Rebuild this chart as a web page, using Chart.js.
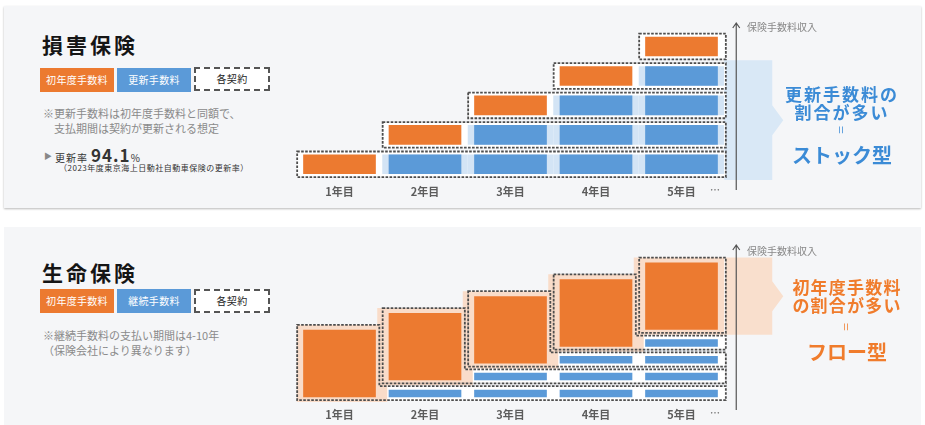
<!DOCTYPE html>
<html lang="ja">
<head>
<meta charset="utf-8">
<script src="https://cdn.jsdelivr.net/npm/chart.js@4.4.1/dist/chart.umd.min.js"></script>
<style>
  html, body { margin: 0; padding: 0; background: #fff; }
  body { width: 925px; height: 425px; position: relative; overflow: hidden;
         font-family: "Noto Sans CJK JP", "Noto Sans", sans-serif; }
  .panel { position: absolute; left: 4px; width: 917px; background: #f5f6f8; }
  #p1 { top: 6px; height: 202px; box-shadow: 0 1px 2px rgba(0,0,0,.28); }
  #p2 { top: 227px; height: 198px; }
  .t { position: absolute; white-space: nowrap; }
  .title { font-size: 21px; font-weight: 700; letter-spacing: 3px; color: #151515; line-height: 24px; }
  .tag { position: absolute; height: 24px; line-height: 24px; font-size: 10px; text-align: center;
         box-sizing: border-box; color: #fff; letter-spacing: 0.3px; }
  .tag.dash { border: 2px dashed #555; background: #fff; color: #222; line-height: 20px; }
  .note { font-size: 11px; line-height: 16px; color: #8a8a8a; }
  .axlabel { font-size: 10px; line-height: 14px; color: #888; }
  .dots { font-size: 10px; line-height: 14px; color: #777; font-weight: 700; }
  .big { position: absolute; text-align: center; font-weight: 700; white-space: nowrap; }
  .big div { height: 18px; line-height: 18px; }
  canvas { position: absolute; }
</style>
</head>
<body>
<div class="panel" id="p1"></div>
<div class="panel" id="p2"></div>

<!-- 損害保険 -->
<div class="t title" style="left:42px;top:32px;">損害保険</div>
<div class="tag" style="left:40px;top:68px;width:74px;background:#ec7a30;">初年度手数料</div>
<div class="tag" style="left:117px;top:68px;width:74px;background:#5b9ad8;">更新手数料</div>
<div class="tag dash" style="left:194px;top:67px;width:76px;">各契約</div>
<div class="t note" style="left:43px;top:105px;">※更新手数料は初年度手数料と同額で、</div>
<div class="t note" style="left:43px;top:120px;">　支払期間は契約が更新される想定</div>
<div class="t" style="left:44px;top:148px;font-size:8px;line-height:16px;color:#888;">▶</div>
<div class="t" style="left:55px;top:146px;line-height:18px;color:#333;">
  <span style="font-size:10px;letter-spacing:1px;">更新率</span><span style="font-size:17px;font-weight:700;letter-spacing:1px;margin-left:3px;">94.1</span><span style="font-size:10px;">%</span>
</div>
<div class="t" style="left:59px;top:163px;font-size:8px;line-height:10px;letter-spacing:0.5px;color:#333;">（2023年度東京海上日動社自動車保険の更新率）</div>

<canvas id="c1" width="520" height="205" style="left:280px;top:5px;"></canvas>
<div class="t axlabel" style="left:747px;top:20px;">保険手数料収入</div>
<div class="t dots" style="left:710px;top:183px;">…</div>
<div class="big" style="left:772px;width:140px;top:85px;color:#3b8bd6;">
  <div style="font-size:17px;letter-spacing:2px;">更新手数料の</div>
  <div style="font-size:17px;letter-spacing:2px;">割合が多い</div>
  <div style="font-size:14px;font-weight:400;transform:rotate(90deg);opacity:.8;">=</div>
  <div style="font-size:20px;margin-top:5px;height:22px;line-height:22px;">ストック型</div>
</div>

<!-- 生命保険 -->
<div class="t title" style="left:42px;top:260px;">生命保険</div>
<div class="tag" style="left:40px;top:289px;width:74px;background:#ec7a30;">初年度手数料</div>
<div class="tag" style="left:117px;top:289px;width:74px;background:#5b9ad8;">継続手数料</div>
<div class="tag dash" style="left:194px;top:289px;width:76px;">各契約</div>
<div class="t note" style="left:43px;top:327px;">※継続手数料の支払い期間は4-10年</div>
<div class="t note" style="left:43px;top:342px;">（保険会社により異なります）</div>

<canvas id="c2" width="520" height="210" style="left:280px;top:220px;"></canvas>
<div class="t axlabel" style="left:747px;top:244px;">保険手数料収入</div>
<div class="t dots" style="left:710px;top:406px;">…</div>
<div class="big" style="left:777px;width:140px;top:278px;color:#f07c2c;">
  <div style="font-size:17px;letter-spacing:1.2px;">初年度手数料</div>
  <div style="font-size:17px;letter-spacing:1.2px;">の割合が多い</div>
  <div style="font-size:14px;font-weight:400;transform:rotate(90deg);margin-top:4px;opacity:.8;">=</div>
  <div style="font-size:20px;margin-top:5px;height:22px;line-height:22px;">フロー型</div>
</div>

<script>
// Categories (contract years)
const years = ['1年目', '2年目', '3年目', '4年目', '5年目'];

// 損害保険: one contract starts each year, renewal fee equals first-year fee
const sonpoFirst = [2, 2, 2, 2, 2];   // 初年度手数料 per contract
const sonpoRenew = [2, 2, 2, 2, 2];   // 更新手数料 per contract per year

// 生命保険: large first-year fee, small continuing fee
const seimeiFirst = [8, 8, 8, 8, 8];            // 初年度手数料 per contract
const seimeiRenew = [0.9, 0.9, 0.9, 0.9, 0.9];  // 継続手数料 per contract per year

const ORANGE = '#ec7a30';
const BLUE = '#5b9ad8';
const LIGHT_BLUE = '#d3e4f5';
const PEACH = '#f9dcc9';

// Turn the fee arrays into floating bar rows: contract c starts in year c
function buildContracts(first, renew, gap) {
    let base = 0;
    return first.map((f, c) => {
        const row = years.map((_, k) => {
            if (k < c) return null;
            if (k === c) return [base, base + f];
            return [base, base + renew[c]];
        });
        const out = { start: c, base: base, row: row };
        base += renew[c] + gap;
        return out;
    });
}

function buildDatasets(contracts, bgKind, bgColor) {
    const main = contracts.map((c) => ({
        data: c.row,
        backgroundColor: (ctx) => ctx.dataIndex === c.start ? ORANGE : BLUE,
        borderWidth: 0,
        inflateAmount: 0,
        barPercentage: 0.85,
        categoryPercentage: 1,
        order: 1,
    }));
    const bg = contracts.map((c) => ({
        data: c.row.map((v, k) => {
            if (bgKind === 'renew') return k > c.start ? v : null;
            return k === c.start ? v : null;
        }),
        backgroundColor: bgColor,
        borderWidth: 0,
        inflateAmount: bgKind === 'first' ? 5 : 0,
        barPercentage: 1,
        categoryPercentage: 1,
        order: 2,
    }));
    return main.concat(bg);
}

// Dashed contract outlines, side banner and the income arrow
function diagramPlugin(contracts, opt) {
    function outline(ctx, chart, c, ci) {
        const els = chart.getDatasetMeta(ci).data;
        const fe = els[c.start];
        const fL = fe.x - fe.width / 2 - opt.padL;
        const fR = fe.x + fe.width / 2;
        const fTop = fe.y - opt.padT;
        const bottom = fe.base + opt.padB;
        ctx.beginPath();
        if (c.start === years.length - 1) {
            ctx.rect(fL, fTop, fR + opt.padR - fL, bottom - fTop);
            return;
        }
        const last = els[years.length - 1];
        const R = last.x + last.width / 2 + opt.padR;
        const sTop = last.y - opt.padT;
        if (fTop >= sTop - 0.5) {
            const top = Math.min(fTop, sTop);
            ctx.rect(fL, top, R - fL, bottom - top);
            return;
        }
        const sx = fR + opt.stepPad;
        const sy = last.y - opt.stepPad;
        ctx.moveTo(fL, fTop);
        ctx.lineTo(sx, fTop);
        ctx.lineTo(sx, sy);
        ctx.lineTo(R, sy);
        ctx.lineTo(R, bottom);
        ctx.lineTo(fL, bottom);
        ctx.closePath();
    }
    return {
        id: 'diagram',
        beforeDatasetsDraw(chart) {
            const { ctx, chartArea: a } = chart;
            // banner next to the last year column
            let top = Infinity, bot = -Infinity;
            contracts.forEach((c, ci) => {
                const el = chart.getDatasetMeta(ci).data[years.length - 1];
                const isFirst = c.start === years.length - 1;
                if (!el || c.row[years.length - 1] === null) return;
                if ((opt.bannerKind === 'first') !== isFirst) return;
                top = Math.min(top, el.y);
                bot = Math.max(bot, el.base);
            });
            top -= opt.bannerPad;
            bot += opt.bannerPad;
            const x0 = a.right, x1 = a.right + 48, mid = (top + bot) / 2;
            ctx.save();
            ctx.fillStyle = opt.bannerColor;
            ctx.beginPath();
            ctx.moveTo(x0, top);
            ctx.lineTo(x1, top);
            ctx.lineTo(x1, mid - 15);
            ctx.lineTo(x1 + 11, mid);
            ctx.lineTo(x1, mid + 15);
            ctx.lineTo(x1, bot);
            ctx.lineTo(x0, bot);
            ctx.closePath();
            ctx.fill();
            // white insides of each contract box
            ctx.fillStyle = '#ffffff';
            contracts.forEach((c, ci) => { outline(ctx, chart, c, ci); ctx.fill(); });
            ctx.restore();
        },
        afterDatasetsDraw(chart) {
            const { ctx, chartArea: a } = chart;
            ctx.save();
            ctx.strokeStyle = '#4d4d4d';
            ctx.lineWidth = 1.8;
            ctx.setLineDash([2.6, 1.4]);
            contracts.forEach((c, ci) => { outline(ctx, chart, c, ci); ctx.stroke(); });
            ctx.setLineDash([]);
            // income axis arrow
            const ax = a.right + 12;
            const y0 = a.bottom + opt.arrowBottom, y1 = a.top + opt.arrowTop;
            ctx.strokeStyle = '#555';
            ctx.lineWidth = 1.2;
            ctx.beginPath();
            ctx.moveTo(ax, y0);
            ctx.lineTo(ax, y1);
            ctx.moveTo(ax - 3.5, y1 + 5);
            ctx.lineTo(ax, y1);
            ctx.lineTo(ax + 3.5, y1 + 5);
            ctx.stroke();
            ctx.restore();
        },
    };
}

function makeChart(id, contracts, bgKind, bgColor, yMin, yMax, pad, tickPad, opt) {
    return new Chart(document.getElementById(id), {
        type: 'bar',
        data: { labels: years, datasets: buildDatasets(contracts, bgKind, bgColor) },
        plugins: [diagramPlugin(contracts, opt)],
        options: {
            responsive: false,
            animation: false,
            events: [],
            layout: { padding: pad },
            plugins: { legend: { display: false }, tooltip: { enabled: false } },
            scales: {
                x: {
                    stacked: true,
                    grid: { display: false, drawTicks: false },
                    border: { display: false },
                    ticks: {
                        color: '#5c5c5c',
                        padding: tickPad,
                        font: { size: 11, weight: 'bold', family: '"Noto Sans CJK JP", sans-serif' },
                    },
                },
                y: { stacked: false, display: false, min: yMin, max: yMax },
            },
        },
    });
}

const sonpo = buildContracts(sonpoFirst, sonpoRenew, 1);
const seimei = buildContracts(seimeiFirst, seimeiRenew, 1.1);

makeChart('c1', sonpo, 'renew', LIGHT_BLUE, -0.6, 15.5,
    { left: 16.75, right: 75.75, top: 17, bottom: 6.8 }, 5,
    { padL: 6, padR: 8, padT: 3, padB: 3, stepPad: 3.5,
      bannerKind: 'renew', bannerColor: '#d9e8f6', bannerPad: 6,
      arrowBottom: 10, arrowTop: 1 });

makeChart('c2', seimei, 'first', PEACH, -0.57, 17.49,
    { left: 16.75, right: 75.75, top: 30, bottom: 2.8 }, 6,
    { padL: 6, padR: 8, padT: 5, padB: 3, stepPad: 3.5,
      bannerKind: 'first', bannerColor: '#f9dfcd', bannerPad: 5,
      arrowBottom: 8, arrowTop: -5 });
</script>
</body>
</html>
